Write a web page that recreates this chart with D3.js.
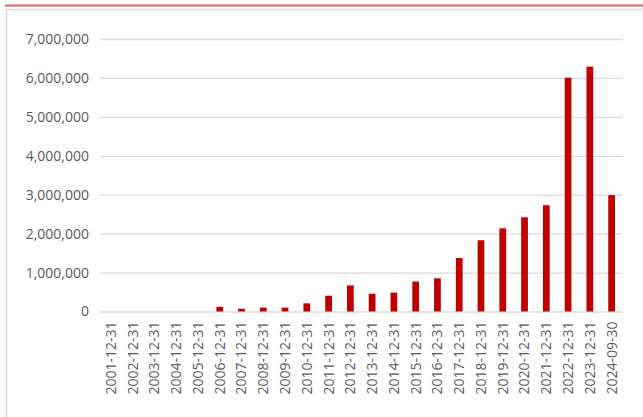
<!DOCTYPE html>
<html>
<head>
<meta charset="utf-8">
<script src="https://cdn.jsdelivr.net/npm/d3@7"></script>
<style>
  body { margin: 0; background: #fff; }
  text { font-family: "Open Sans", "Noto Sans", sans-serif; }
</style>
</head>
<body>
<svg id="mainsvg" width="643" height="417"></svg>
<script>
const dates = ['2001-12-31', '2002-12-31', '2003-12-31', '2004-12-31', '2005-12-31',
  '2006-12-31', '2007-12-31', '2008-12-31', '2009-12-31', '2010-12-31', '2011-12-31',
  '2012-12-31', '2013-12-31', '2014-12-31', '2015-12-31', '2016-12-31', '2017-12-31',
  '2018-12-31', '2019-12-31', '2020-12-31', '2021-12-31', '2022-12-31', '2023-12-31',
  '2024-09-30'];
const values = [0, 0, 0, 0, 0,
  120000, 70000, 100000, 100000, 210000, 405000,
  670000, 457000, 485000, 770000, 853000, 1374000,
  1830000, 2137000, 2420000, 2730000, 6006000, 6290000,
  2990000];
const yTicks = [0, 1000000, 2000000, 3000000, 4000000, 5000000, 6000000, 7000000];

const svg = d3.select('#mainsvg');
const margin = { top: 39, left: 100, right: 20.5, bottom: 105.5 };
const width = +svg.attr('width');
const height = +svg.attr('height');
const innerWidth = width - margin.left - margin.right;
const innerHeight = height - margin.top - margin.bottom;

// red rule and the frame's left / top edges
svg.append('line')
  .attr('x1', 5).attr('x2', width).attr('y1', 5.5).attr('y2', 5.5)
  .attr('stroke', '#e06666').attr('stroke-width', 2);
svg.append('path')
  .attr('d', `M6.5,${height} V9.5 H${width}`)
  .attr('fill', 'none').attr('stroke', '#d9d9d9').attr('stroke-width', 1.5);

const g = svg.append('g')
  .attr('transform', `translate(${margin.left}, ${margin.top})`);

const xScale = d3.scaleBand()
  .domain(dates)
  .range([0, innerWidth])
  .paddingInner(0.69)
  .paddingOuter(0.345);
const yScale = d3.scaleLinear()
  .domain([0, 7000000])
  .range([innerHeight, 0]);

const yAxis = d3.axisLeft(yScale)
  .tickValues(yTicks)
  .tickFormat(d3.format(','))
  .tickSize(-innerWidth)
  .tickPadding(11);
const yg = g.append('g').call(yAxis);
yg.select('.domain').remove();
yg.selectAll('line').attr('stroke', '#d9d9d9').attr('stroke-width', 1.3);
yg.selectAll('text').attr('fill', '#595959').attr('font-size', 14);

g.selectAll('rect.bar')
  .data(values)
  .enter()
  .append('rect')
  .attr('class', 'bar')
  .attr('x', (d, i) => xScale(dates[i]))
  .attr('y', d => yScale(d))
  .attr('width', xScale.bandwidth())
  .attr('height', d => innerHeight - yScale(d))
  .attr('fill', '#c00000');

// rotated date labels
g.append('g')
  .selectAll('text')
  .data(dates)
  .enter()
  .append('text')
  .text(d => d)
  .attr('transform', d => `translate(${xScale(d) + xScale.bandwidth() / 2}, ${innerHeight + 10}) rotate(-90)`)
  .attr('text-anchor', 'end')
  .attr('dy', '0.35em')
  .attr('fill', '#595959')
  .attr('font-size', 14);
</script>
</body>
</html>
